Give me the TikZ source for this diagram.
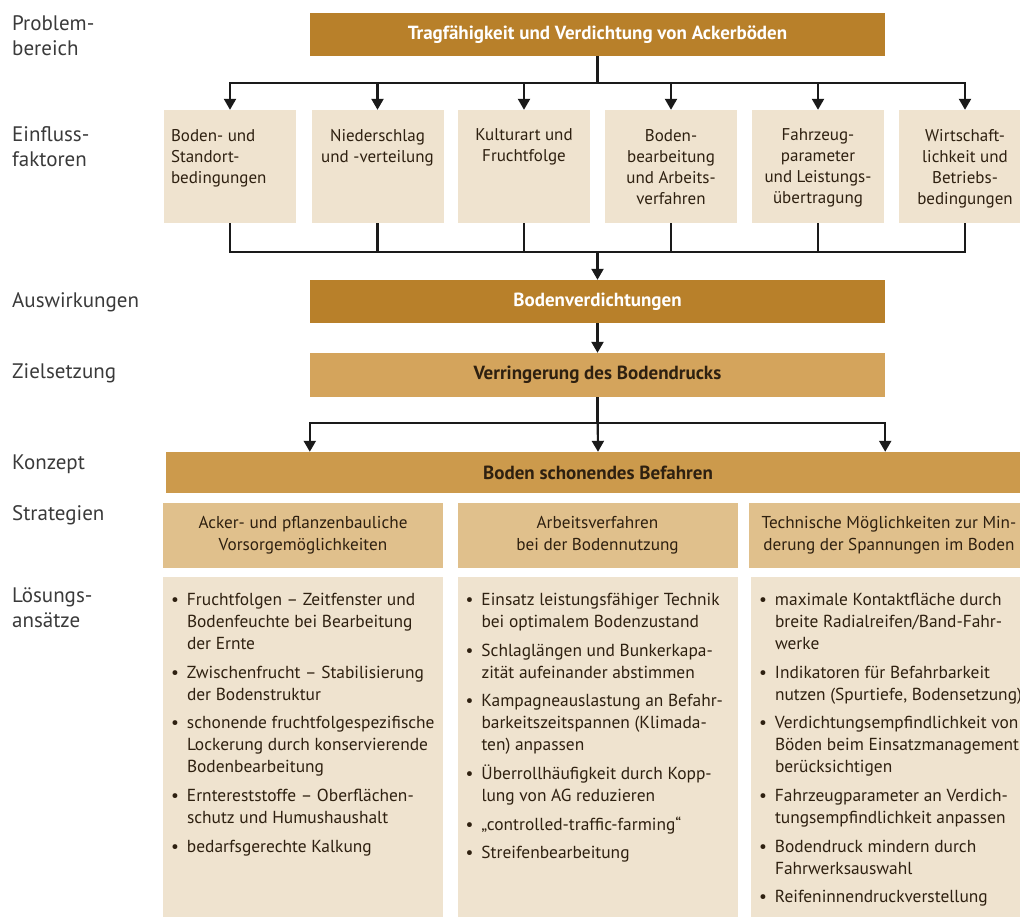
\documentclass[tikz,border=0pt]{standalone}
\usepackage{fontspec}
\setmainfont{PT Sans}
\usepackage{tikz}
\usetikzlibrary{arrows.meta, positioning, calc}
\definecolor{golddark}{HTML}{B8802A}
\definecolor{goldgoal}{HTML}{D4A45C}
\definecolor{goldconcept}{HTML}{CC9A4C}
\definecolor{goldlight}{HTML}{E0C08C}
\definecolor{beige}{HTML}{EFE3CF}
\definecolor{browntext}{HTML}{2E2010}
\definecolor{labelgray}{HTML}{3A3A3A}
\definecolor{linedark}{HTML}{1A1A1A}

\newcommand{\bul}{\makebox[16pt][l]{\textbullet}}
\newcommand{\ind}{\hspace*{16pt}}

\begin{document}
\begin{tikzpicture}[x=1pt, y=-1pt,
    rowlabel/.style={anchor=west, align=left, inner sep=0pt, text=labelgray, font=\fontsize{21}{25}\selectfont},
    header/.style={rectangle, fill=#1, minimum width=575pt, minimum height=43pt, inner sep=0pt, font=\fontsize{19}{22}\selectfont\bfseries},
    factor/.style={rectangle, fill=beige, minimum width=132pt, minimum height=113pt, inner sep=0pt},
    factortext/.style={align=#1, inner sep=0pt, text=browntext, font=\fontsize{17}{21}\selectfont},
    strategy/.style={rectangle, fill=goldlight, minimum width=280pt, minimum height=65pt, inner sep=0pt, align=center, text=browntext, font=\fontsize{17.2}{22}\selectfont},
    solution/.style={rectangle, fill=beige, minimum width=280pt, minimum height=348pt, inner sep=0pt},
    soltext/.style={align=left, inner sep=0pt, text=browntext, font=\fontsize{17.4}{22}\selectfont},
    arrow/.style={-{Triangle[width=12pt, length=11pt]}, line width=2.2pt, color=linedark},
    link/.style={line width=2.2pt, color=linedark}
]
\useasboundingbox (0,0) rectangle (1020,917);

% Row labels
\node[rowlabel] (lprob) at (12,36) {Problem-\\bereich};
\node[rowlabel] (lfact) at (12,147) {Einfluss-\\faktoren};
\node[rowlabel] (leff) at (12,302) {Auswirkungen};
\node[rowlabel] (lgoal) at (12,373) {Zielsetzung};
\node[rowlabel] (lconc) at (12,464) {Konzept};
\node[rowlabel] (lstrat) at (12,515) {Strategien};
\node[rowlabel] (lsol) at (12,608) {Lösungs-\\ansätze};

% Problem area
\node[header=golddark, text=white] (prob) at (597.5,34.5) {Tragfähigkeit und Verdichtung von Ackerböden};

% Influence factors
\node[factor] (f1) at (230,166.5) {};
\node[factor] (f2) at (377.5,166.5) {};
\node[factor] (f3) at (524,166.5) {};
\node[factor] (f4) at (671,166.5) {};
\node[factor] (f5) at (818,166.5) {};
\node[factor] (f6) at (965,166.5) {};

\node[factortext=left, below right=19pt and 7pt of f1.north west] (t1) {Boden- und\\Standort-\\bedingungen};
\node[factortext=center, below=19pt of f2.north] (t2) {Niederschlag\\und -verteilung};
\node[factortext=center, below=19pt of f3.north] (t3) {Kulturart und\\Fruchtfolge};
\node[factortext=center, below=19pt of f4.north] (t4) {Boden-\\bearbeitung\\und Arbeits-\\verfahren};
\node[factortext=center, below=19pt of f5.north] (t5) {Fahrzeug-\\parameter\\und Leistungs-\\übertragung};
\node[factortext=center, below=19pt of f6.north] (t6) {Wirtschaft-\\lichkeit und\\Betriebs-\\bedingungen};

% Effects and goal
\node[header=golddark, text=white] (effect) at (597.5,301.5) {Bodenverdichtungen};
\node[header=goldgoal, text=browntext, minimum height=44pt] (goal) at (597.5,375) {Verringerung des Bodendrucks};

% Concept
\node[header=goldconcept, text=browntext, minimum width=864pt, minimum height=41pt] (concept) at (598,472.5) {Boden schonendes Befahren};

% Strategies
\node[strategy] (s1) at (303,535.5) {Acker- und pflanzenbauliche\\Vorsorgemöglichkeiten};
\node[strategy] (s2) at (597.5,535.5) {Arbeitsverfahren\\bei der Bodennutzung};
\node[strategy] (s3) at (889,535.5) {Technische Möglichkeiten zur Min-\\derung der Spannungen im Boden};

% Solutions
\node[solution] (sol1) at (303,751) {};
\node[solution] (sol2) at (597.5,751) {};
\node[solution] (sol3) at (891,751) {};

\node[soltext, below right=16pt and 8pt of sol1.north west] (sol1txt) {%
\bul Fruchtfolgen -- Zeitfenster und\\ \ind Bodenfeuchte bei Bearbeitung\\ \ind der Ernte\\[6.7pt]
\bul Zwischenfrucht -- Stabilisierung\\ \ind der Bodenstruktur\\[6.7pt]
\bul schonende fruchtfolgespezifische\\ \ind Lockerung durch konservierende\\ \ind Bodenbearbeitung\\[6.7pt]
\bul Erntereststoffe -- Oberflächen-\\ \ind schutz und Humushaushalt\\[6.7pt]
\bul bedarfsgerechte Kalkung};

\node[soltext, below right=16pt and 8pt of sol2.north west] (sol2txt) {%
\bul Einsatz leistungsfähiger Technik\\ \ind bei optimalem Bodenzustand\\[6.7pt]
\bul Schlaglängen und Bunkerkapa-\\ \ind zität aufeinander abstimmen\\[6.7pt]
\bul Kampagneauslastung an Befahr-\\ \ind barkeitszeitspannen (Klimada-\\ \ind ten) anpassen\\[6.7pt]
\bul Überrollhäufigkeit durch Kopp-\\ \ind lung von AG reduzieren\\[6.7pt]
\bul „controlled-traffic-farming“\\[6.7pt]
\bul Streifenbearbeitung};

\node[soltext, below right=16pt and 8pt of sol3.north west] (sol3txt) {%
\bul maximale Kontaktfläche durch\\ \ind breite Radialreifen/Band-Fahr-\\ \ind werke\\[6.7pt]
\bul Indikatoren für Befahrbarkeit\\ \ind nutzen (Spurtiefe, Bodensetzung)\\[6.7pt]
\bul Verdichtungsempfindlichkeit von\\ \ind Böden beim Einsatzmanagement\\ \ind berücksichtigen\\[6.7pt]
\bul Fahrzeugparameter an Verdich-\\ \ind tungsempfindlichkeit anpassen\\[6.7pt]
\bul Bodendruck mindern durch\\ \ind Fahrwerksauswahl\\[6.7pt]
\bul Reifeninnendruckverstellung};

% Arrows
\foreach \i in {1,...,6}
    \draw[arrow] (prob.south) -- ++(0,27) -| (f\i.north);

\coordinate (join) at (597.5,252);
\foreach \i in {1,...,6}
    \draw[link] (f\i.south) |- (join);
\draw[arrow] (join) -- (effect.north);
\draw[arrow] (effect.south) -- (goal.north);

\draw[arrow] (goal.south) -- ++(0,26) -| (goal.south west |- concept.north);
\draw[arrow] (goal.south) -- (concept.north);
\draw[arrow] (goal.south) -- ++(0,26) -| (goal.south east |- concept.north);

\end{tikzpicture}
\end{document}
